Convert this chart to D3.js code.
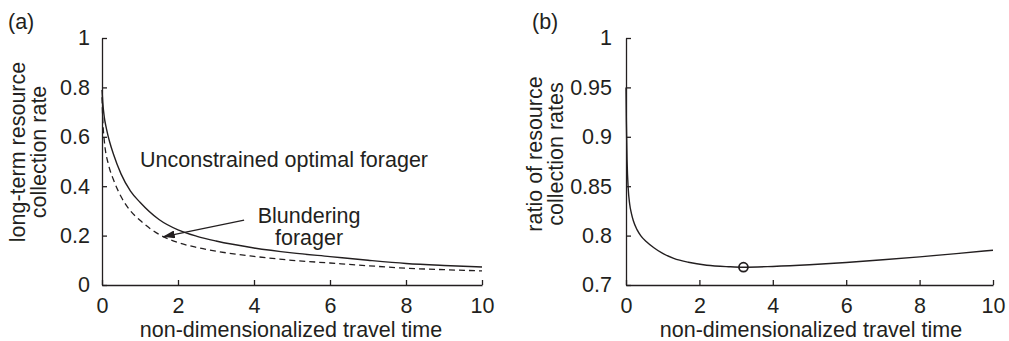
<!DOCTYPE html>
<html>
<head>
<meta charset="utf-8">
<script src="https://cdn.jsdelivr.net/npm/d3@7"></script>
<style>
  body { margin: 0; background: #fff; }
  svg { display: block; }
</style>
</head>
<body>
<svg id="chart"></svg>
<script>
const width = 1009;
const height = 341;
const ink = "#231f20";
const font = "'Liberation Sans', Arial, Helvetica, sans-serif";

// x ticks shared by both panels
const xTicks = [0, 2, 4, 6, 8, 10];
const xTickLabels = ["0", "2", "4", "6", "8", "10"];

// panel (a): long-term resource collection rate
const yTicksA = [0, 0.2, 0.4, 0.6, 0.8, 1];
const yTickLabelsA = ["0", "0.2", "0.4", "0.6", "0.8", "1"];
const travelA = [0, 0.02, 0.06, 0.1, 0.15, 0.2, 0.3, 0.5, 0.75, 1, 1.5, 2, 2.5, 3, 4, 5, 6, 7, 8, 9, 10];
const optimalRate = [0.79, 0.74, 0.68, 0.645, 0.61, 0.58, 0.53, 0.45, 0.38, 0.335, 0.265, 0.223, 0.197, 0.178, 0.15, 0.13, 0.115, 0.1, 0.087, 0.079, 0.073];
const blunderRate = [0.76, 0.67, 0.585, 0.535, 0.5, 0.47, 0.427, 0.358, 0.3, 0.262, 0.205, 0.172, 0.152, 0.137, 0.116, 0.1, 0.089, 0.078, 0.068, 0.062, 0.057];

// panel (b): ratio of the two rates (axis labels as printed)
const yTicksB = [0.75, 0.8, 0.85, 0.9, 0.95, 1];
const yTickLabelsB = ["0.7", "0.8", "0.85", "0.9", "0.95", "1"];
const travelB = [0, 0.01, 0.03, 0.06, 0.1, 0.15, 0.2, 0.3, 0.4, 0.55, 0.75, 1.0, 1.3, 1.7, 2.2, 2.8, 3.2, 4, 5, 6, 7, 8, 9, 10];
const rateRatio = [0.95, 0.915, 0.875, 0.848, 0.832, 0.822, 0.815, 0.806, 0.8, 0.794, 0.788, 0.782, 0.777, 0.773, 0.77, 0.7685, 0.768, 0.7688, 0.7705, 0.7728, 0.7755, 0.7785, 0.7818, 0.7852];
const ratioMin = [3.2, 0.768];

const svg = d3.select("#chart")
    .attr("width", width)
    .attr("height", height)
    .style("font-family", font)
    .style("font-size", "21.5px");

svg.append("rect").attr("width", width).attr("height", height).attr("fill", "#fff");

svg.append("defs").append("marker")
    .attr("id", "head")
    .attr("viewBox", "0 0 12 8")
    .attr("refX", 12).attr("refY", 4)
    .attr("markerWidth", 12).attr("markerHeight", 8)
    .attr("markerUnits", "userSpaceOnUse")
    .attr("orient", "auto")
  .append("path")
    .attr("d", "M0,0L12,4L0,8Z")
    .attr("fill", ink);

function panel(opts) {
    const x = d3.scaleLinear().domain([0, 10]).range(opts.xRange);
    const y = d3.scaleLinear().domain(opts.yDomain).range([285, 38]);

    const g = svg.append("g");

    const xa = g.append("g")
        .attr("transform", `translate(0,${y.range()[0]})`)
        .call(d3.axisBottom(x)
            .tickValues(xTicks)
            .tickFormat((d, i) => xTickLabels[i])
            .tickSizeInner(-5).tickSizeOuter(0).tickPadding(13));

    const ya = g.append("g")
        .attr("transform", `translate(${x.range()[0]},0)`)
        .call(d3.axisLeft(y)
            .tickValues(opts.yTicks)
            .tickFormat((d, i) => opts.yLabels[i])
            .tickSizeInner(-5).tickSizeOuter(0).tickPadding(opts.yPad));

    [xa, ya].forEach(a => {
        a.attr("font-size", null).attr("font-family", null);
        a.selectAll("path, line").attr("stroke", ink).attr("stroke-width", 1.3);
        a.selectAll("text").attr("fill", ink);
    });

    // y label, two lines
    const yl = g.append("text")
        .attr("transform", `translate(${opts.yLabelX},${opts.yLabelY}) rotate(-90)`)
        .attr("text-anchor", "middle")
        .attr("fill", ink);
    opts.yLabel.forEach((s, i) => yl.append("tspan").attr("x", 0).attr("y", i * 21).text(s));

    g.append("text")
        .attr("x", opts.xLabelX).attr("y", 337)
        .attr("text-anchor", "middle")
        .attr("fill", ink)
        .text("non-dimensionalized travel time");

    g.append("text")
        .attr("x", opts.tagX).attr("y", 29)
        .attr("fill", ink)
        .text(opts.tag);

    return { g, x, y };
}

// (a)
const A = panel({
    xRange: [102, 482], yDomain: [0, 1],
    yTicks: yTicksA, yLabels: yTickLabelsA, yPad: 12,
    yLabel: ["long-term resource", "collection rate"], yLabelX: 25, yLabelY: 152,
    xLabelX: 291, tag: "(a)", tagX: 8
});

const lineA = (ys) => d3.line()
    .x((d, i) => A.x(travelA[i]))
    .y(d => A.y(d))
    .curve(d3.curveMonotoneX)(ys);

A.g.append("path").attr("d", lineA(optimalRate))
    .attr("fill", "none").attr("stroke", ink).attr("stroke-width", 1.4);
A.g.append("path").attr("d", lineA(blunderRate))
    .attr("fill", "none").attr("stroke", ink).attr("stroke-width", 1.3)
    .attr("stroke-dasharray", "6,4");

A.g.append("text")
    .attr("x", A.x(1.0)).attr("y", A.y(0.478))
    .attr("fill", ink)
    .text("Unconstrained optimal forager");

const bl = A.g.append("text")
    .attr("text-anchor", "middle")
    .attr("fill", ink);
bl.append("tspan").attr("x", A.x(5.45)).attr("y", A.y(0.251)).text("Blundering");
bl.append("tspan").attr("x", A.x(5.45)).attr("y", A.y(0.162)).text("forager");

A.g.append("line")
    .attr("x1", A.x(3.74)).attr("y1", A.y(0.263))
    .attr("x2", A.x(1.6)).attr("y2", A.y(0.195))
    .attr("stroke", ink).attr("stroke-width", 1.3)
    .attr("marker-end", "url(#head)");

// (b)
const B = panel({
    xRange: [626, 993], yDomain: [0.75, 1],
    yTicks: yTicksB, yLabels: yTickLabelsB, yPad: 14,
    yLabel: ["ratio of resource", "collection rates"], yLabelX: 542, yLabelY: 154,
    xLabelX: 811, tag: "(b)", tagX: 532
});

B.g.append("path")
    .attr("d", d3.line()
        .x((d, i) => B.x(travelB[i]))
        .y(d => B.y(d))
        .curve(d3.curveMonotoneX)(rateRatio))
    .attr("fill", "none").attr("stroke", ink).attr("stroke-width", 1.4);

B.g.append("circle")
    .attr("cx", B.x(ratioMin[0])).attr("cy", B.y(ratioMin[1]))
    .attr("r", 4.5)
    .attr("fill", "none").attr("stroke", ink).attr("stroke-width", 1.8);
</script>
</body>
</html>
